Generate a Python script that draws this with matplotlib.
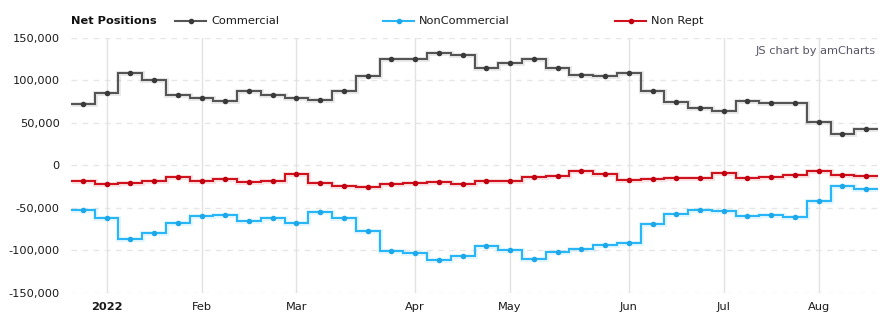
import numpy as np
import matplotlib
matplotlib.use('Agg')
import matplotlib.pyplot as plt
import matplotlib.patheffects as pe
from matplotlib.lines import Line2D

# weekly report dates (Tuesdays), Dec 28 2021 .. Aug 16 2022
weeks = ['2021-12-28',
         '2022-01-04', '2022-01-11', '2022-01-18', '2022-01-25',
         '2022-02-01', '2022-02-08', '2022-02-15', '2022-02-22',
         '2022-03-01', '2022-03-08', '2022-03-15', '2022-03-22', '2022-03-29',
         '2022-04-05', '2022-04-12', '2022-04-19', '2022-04-26',
         '2022-05-03', '2022-05-10', '2022-05-17', '2022-05-24', '2022-05-31',
         '2022-06-07', '2022-06-14', '2022-06-21', '2022-06-28',
         '2022-07-05', '2022-07-12', '2022-07-19', '2022-07-26',
         '2022-08-02', '2022-08-09', '2022-08-16']

commercial = [72000, 85000, 109000, 100000, 83000, 79000, 76000, 87000, 83000, 79000,
              77000, 88000, 105000, 125000, 125000, 132000, 130000, 115000, 121000, 125000,
              115000, 106000, 105000, 109000, 87000, 75000, 68000, 64000, 76000, 73500,
              73500, 51000, 37000, 43000]
noncommercial = [-52500, -62000, -87000, -80000, -68000, -60000, -58500, -65500, -62000, -68000,
                 -55000, -62000, -77500, -101000, -103500, -111500, -107000, -95000, -100000, -110500,
                 -102000, -98500, -94000, -91500, -69000, -57500, -52500, -54000, -60000, -58500,
                 -61000, -42000, -24500, -28000]
nonrept = [-18500, -22000, -21000, -18500, -13500, -18500, -16000, -19500, -18500, -10000,
           -21000, -24500, -25500, -22000, -21000, -19500, -22000, -18500, -18500, -13500,
           -12500, -7000, -10500, -17500, -16000, -15000, -15000, -9000, -15000, -13500,
           -11500, -7000, -11500, -12500]

month_labels = ['2022', 'Feb', 'Mar', 'Apr', 'May', 'Jun', 'Jul', 'Aug']
month_starts = ['2022-01-04', '2022-02-01', '2022-03-01', '2022-04-05',
                '2022-05-03', '2022-06-07', '2022-07-05', '2022-08-02']

series = [('Commercial', commercial, '#555555', '#3a3a3a'),
          ('NonCommercial', noncommercial, '#29b6f6', '#1ea8ea'),
          ('Non Rept', nonrept, '#d0121e', '#c00010')]

plt.rcParams['font.family'] = ['DejaVu Sans']
fs = 8.2
txt = '#1a1a1a'

fig = plt.figure(figsize=(8.92, 3.27), dpi=100)
ax = fig.add_axes([71 / 892, 34.3 / 327, 807 / 892, 254.7 / 327])

x = np.arange(len(weeks))
edges = np.arange(len(weeks) + 1) - 0.5

for name, vals, col, mcol in series:
    st = ax.stairs(vals, edges, baseline=None, color=col, linewidth=1.5, zorder=3)
    st.set_path_effects([pe.Stroke(linewidth=3.6, foreground=col, alpha=0.12), pe.Normal()])
    ax.plot(x, vals, linestyle='none', marker='o', markersize=3.0,
            color=mcol, zorder=4)

ax.set_xlim(-0.5, len(weeks) - 0.5)
ax.set_ylim(-150000, 150000)

yt = [-150000, -100000, -50000, 0, 50000, 100000, 150000]
ax.set_yticks(yt)
ax.set_yticklabels(['{:,}'.format(v) for v in yt], fontsize=fs, color=txt)
for v in yt:
    ax.axhline(v, color='#e6e6e6', linewidth=1, linestyle=(0, (4, 4)), zorder=1)

pos = [weeks.index(d) for d in month_starts]
ax.set_xticks(pos)
ax.set_xticklabels(month_labels, fontsize=fs, color=txt)
ax.get_xticklabels()[0].set_fontweight('bold')
for p in pos:
    ax.axvline(p, color='#e2e2e2', linewidth=1, zorder=1)

ax.tick_params(axis='both', length=0)
ax.tick_params(axis='y', pad=8)
ax.tick_params(axis='x', pad=7)
for s in ax.spines.values():
    s.set_visible(False)

# legend row on top
ly = 1 - 21 / 327
fig.text(71 / 892, ly, 'Net Positions', fontsize=fs, fontweight='bold', color='#111111',
         va='center', ha='left')
for (name, vals, col, mcol), x0 in zip(series, [175, 383, 615]):
    fig.add_artist(Line2D([x0 / 892, (x0 + 31) / 892], [ly, ly], color=col, linewidth=1.5,
                          transform=fig.transFigure))
    fig.add_artist(Line2D([(x0 + 15.5) / 892], [ly], color=mcol, marker='o', markersize=3.0,
                          transform=fig.transFigure))
    fig.text((x0 + 36) / 892, ly, name, fontsize=fs, color=txt, va='center', ha='left')

fig.text(876 / 892, 1 - 51 / 327, 'JS chart by amCharts', fontsize=fs, color='#555566',
         va='center', ha='right')

fig.savefig('out.png', dpi=100)
